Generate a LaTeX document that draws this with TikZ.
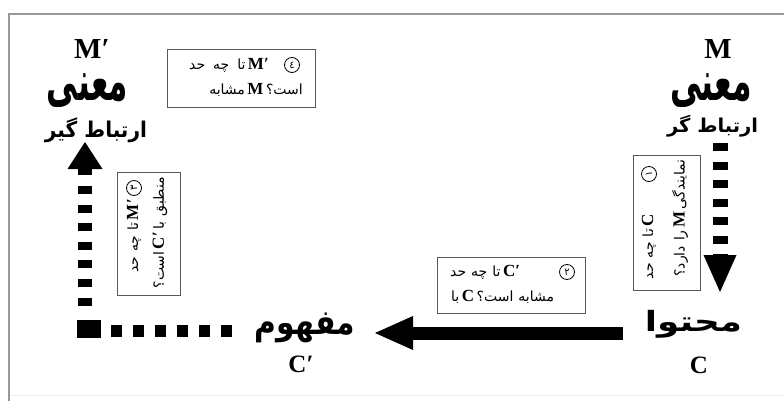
\documentclass[tikz,border=0pt]{standalone}
\usepackage{fontspec}
\usepackage{graphicx}
\usetikzlibrary{arrows.meta}
\TeXXeTstate=1
\setmainfont{Liberation Serif}
\newfontfamily\arfont[Script=Arabic]{DejaVu Sans}
% Persian run inside the question boxes (direction given in the text itself)
\newcommand\fa[1]{{\arfont\fontsize{14}{14}\selectfont\spaceskip=5pt plus 1pt minus 1pt #1}}
% large bold Persian word squeezed to a given width and total height
\newcommand\bigfa[3]{\resizebox*{#1}{#2}{\arfont\bfseries #3}}
% Latin symbol inside the question boxes
\newcommand\lt[1]{{\bfseries\fontsize{17}{17}\selectfont #1}}

\begin{document}
\begin{tikzpicture}[x=1pt,y=-1pt,
  lbl/.style={inner sep=0pt, outer sep=0pt},
  biglat/.style={lbl, font=\bfseries\fontsize{29}{29}\selectfont},
  midlat/.style={lbl, font=\bfseries\fontsize{25}{25}\selectfont},
  qbox/.style={draw=black!65, line width=0.8pt, inner sep=0pt},
  qline/.style={inner sep=0pt},
  cnum/.style={circle, draw, line width=0.8pt, minimum size=15pt, inner sep=0pt,
    font=\arfont\fontsize{10}{10}\selectfont},
  dashR/.style={line width=15pt, dash pattern=on 8pt off 10.5pt},
  dashV/.style={line width=14pt, dash pattern=on 8pt off 10.6pt},
  dashH/.style={line width=12pt, dash pattern=on 11pt off 11pt},
  solidarrow/.style={line width=13pt},
]
\useasboundingbox (0,0) rectangle (784,401);
\fill[white] (0,0) rectangle (784,401);

% frame
\draw[black!40, line width=1.6pt] (784,14) -- (9,14) -- (9,401);
\draw[black!6, line width=1pt] (10,395) -- (784,395);

% sender side
\node[biglat] (mR) at (718,49) {M};
\node[lbl] (maR) at (711,91) {\bigfa{82pt}{34pt}{\beginR معنی\endR}};
\node[lbl] (irR) at (712.5,126.5) {\bigfa{91pt}{22pt}{\beginR ارتباط گر\endR}};
\node[lbl] (mohtava) at (693.5,324) {\bigfa{97pt}{28pt}{\beginR محتوا\endR}};
\node[midlat] (cR) at (699,365) {C};

% receiver side
\node[lbl] (mafhoom) at (305,328) {\bigfa{100pt}{30pt}{\beginR مفهوم\endR}};
\node[midlat] (cL) at (301,364) {C′};
\node[biglat] (mL) at (92,49) {M′};
\node[lbl] (maL) at (87.5,90.5) {\bigfa{81pt}{34pt}{\beginR معنی\endR}};
\node[lbl] (irL) at (96,130) {\bigfa{102pt}{25pt}{\beginR ارتباط گیر\endR}};

% question 4
\node[qbox, minimum width=148pt, minimum height=58pt] (q4) at (241,78) {};
\node[qline, anchor=east] (q4a) at (269,65) {\fa{\beginR تا\hspace{3pt} چه\hspace{3pt} حد\endR}\ \lt{M′}};
\node[cnum] (n4) at (292,65) {٤};
\node[qline, anchor=east] (q4b) at (303,90) {\fa{\beginR مشابه\endR}\ \lt{M}\ \fa{\beginR است؟\endR}};

% question 2
\node[qbox, minimum width=148pt, minimum height=56pt] (q2) at (511,285) {};
\node[qline, anchor=west] (q2a) at (450,272) {\fa{\beginR تا چه حد\endR}\ \lt{C′}};
\node[cnum] (n2) at (567,272) {٢};
\node[qline, anchor=west] (q2b) at (451,297) {\fa{\beginR با\endR}\ \lt{C}\ \fa{\beginR مشابه است؟\endR}};

% question 1
\node[qbox, minimum width=67pt, minimum height=135pt] (q1) at (666.5,222.5) {};
\node[cnum, rotate=90] (n1) at (649,174) {١};
\node[qline, rotate=90, anchor=east] (q1a) at (649,214) {\fa{\beginR تا چه حد\endR}\ \lt{C}};
\node[qline, rotate=90, anchor=east] (q1b) at (680,159) {\fa{\beginR را دارد؟\endR}\ \lt{M}\ \fa{\beginR نمایندگی\endR}};

% question 3
\node[qbox, minimum width=63pt, minimum height=123pt] (q3) at (148.5,233.5) {};
\node[cnum, rotate=90] (n3) at (134,188) {٣};
\node[qline, rotate=90, anchor=east] (q3a) at (134,199) {\fa{\beginR تا چه حد\endR}\ \lt{M′}};
\node[qline, rotate=90, anchor=east] (q3b) at (160,177) {\fa{\beginR است؟\endR}\ \lt{C′}\ \fa{\beginR منطبق با\endR}};

% encoding: meaning to content
\coordinate (rA) at (720,143);
\coordinate (rB) at (720,292);
\draw[dashR, -{Triangle[length=37pt, width=33pt, line width=0pt]}] (rA) -- (rB);

% transmission: content to concept
\coordinate (sA) at (623,333);
\coordinate (sB) at (375,333);
\draw[solidarrow, -{Triangle[length=38pt, width=34pt, line width=0pt]}] (sA) -- (sB);

% decoding: concept back up to meaning
\coordinate (hA) at (232,331);
\coordinate (hB) at (78,331);
\draw[dashH] (hA) -- (hB);
\fill (77,320) rectangle (101,338);
\coordinate (vA) at (85,305.6);
\coordinate (vB) at (85,142);
\draw[dashV, -{Triangle[length=27pt, width=35pt, line width=0pt]}] (vA) -- (vB);
\end{tikzpicture}
\end{document}
